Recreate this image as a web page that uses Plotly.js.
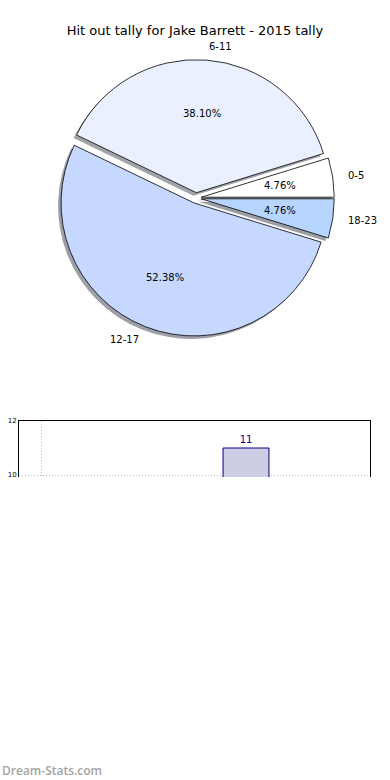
<!DOCTYPE html>
<html>
<head>
<meta charset="utf-8">
<script src="https://cdn.plot.ly/plotly-3.0.1.min.js"></script>
<style>html,body{margin:0;padding:0;background:#fff;}#chart{width:390px;height:780px;}</style>
</head>
<body>
<div id="chart"></div>
<script>
// ---- data ----
const sliceLabels = ['0-5', '6-11', '12-17', '18-23'];
const sliceValues = [1, 8, 11, 1];
const barX = [5];
const barValues = [11];
const yTickVals = [10, 12];
const xGridVals = [0, 8];
const chartTitle = 'Hit out tally for Jake Barrett - 2015 tally';

// ---- style / geometry ----
const W = 390, H = 780;
const sliceColors = ['#ffffff', '#eaf0ff', '#c6d8ff', '#b7d6ff'];
const shadowColors = ['rgba(77,77,77,0.5)', 'rgba(70,72,77,0.5)', 'rgba(59,65,77,0.5)', 'rgba(55,64,77,0.5)'];
const CX = 196, CY = 198, R = 133, PULL = 0.04;
const half = R * (1 + PULL);
const pxX = x => x / W, pxY = y => 1 - y / H;
const dom = (dx, dy) => ({x: [pxX(CX - half + dx), pxX(CX + half + dx)], y: [pxY(CY + half + dy), pxY(CY - half + dy)]});
const pulls = sliceValues.map(() => PULL);
const total = sliceValues.reduce((a, b) => a + b, 0);
// Plotly's counterclockwise pies place the first slice clockwise of the rotation point;
// shift so the first slice starts at 3 o'clock like matplotlib.
const rot = 90 - sliceValues[0] / total * 360;

const shadow = {
  type: 'pie', values: sliceValues, labels: sliceLabels, sort: false,
  direction: 'counterclockwise', rotation: rot, pull: pulls,
  domain: dom(-3, 3), textinfo: 'none', hoverinfo: 'skip', showlegend: false,
  marker: {colors: shadowColors, line: {width: 0}}
};
const pie = {
  type: 'pie', values: sliceValues, labels: sliceLabels, sort: false,
  direction: 'counterclockwise', rotation: rot, pull: pulls,
  domain: dom(0, 0), textinfo: 'none', showlegend: false,
  marker: {colors: sliceColors, line: {color: '#000', width: 0.8}}
};
const bar = {
  type: 'bar', x: barX, y: barValues, width: 1.12,
  xaxis: 'x', yaxis: 'y',
  marker: {color: '#ccccE5', line: {color: '#000080', width: 1}},
  text: barValues.map(String), textposition: 'outside', cliponaxis: false,
  textfont: {family: 'DejaVu Sans', size: 10, color: '#000080'},
  hoverinfo: 'skip', showlegend: false
};

// ---- pie text annotations (computed from values) ----
const annotations = [];
let cum = 0;
sliceValues.forEach((v, i) => {
  const mid = (cum + v / 2) / total * 2 * Math.PI;
  cum += v;
  const c = Math.cos(mid), s = Math.sin(mid);
  const ox = CX + PULL * R * c, oy = CY - PULL * R * s;
  annotations.push({
    x: pxX(ox + 0.6 * R * c), y: pxY(oy - 0.6 * R * s), xref: 'paper', yref: 'paper',
    text: (v / total * 100).toFixed(2) + '%', showarrow: false,
    xanchor: 'center', yanchor: 'middle',
    font: {family: 'DejaVu Sans', size: 10, color: '#000'}
  });
  annotations.push({
    x: pxX(ox + 1.1 * R * c), y: pxY(oy - 1.1 * R * s), xref: 'paper', yref: 'paper',
    text: sliceLabels[i], showarrow: false,
    xanchor: c > 0 ? 'left' : 'right', yanchor: 'middle',
    font: {family: 'DejaVu Sans', size: 10, color: '#000'}
  });
});
annotations.push({
  x: 0, y: pxY(770), xref: 'paper', yref: 'paper', text: 'Dream-Stats.com',
  showarrow: false, xanchor: 'left', yanchor: 'middle',
  font: {family: 'Open Sans', size: 12, color: '#a3a3a3', weight: 600}
});

const pxPerUnitX = 41;
const layout = {
  width: W, height: H, margin: {l: 0, r: 0, t: 0, b: 0},
  paper_bgcolor: '#fff', plot_bgcolor: '#fff',
  title: {text: chartTitle, x: 0.5, xref: 'paper', xanchor: 'center', y: pxY(30), yref: 'container', yanchor: 'middle',
          font: {family: 'DejaVu Sans', size: 13, color: '#000'}},
  xaxis: {domain: [pxX(19), pxX(370)], anchor: 'y', side: 'top',
          range: [-22 / pxPerUnitX, 329 / pxPerUnitX],
          tickvals: xGridVals, showticklabels: false, ticks: '',
          showgrid: true, gridcolor: '#bdbdbd', griddash: '1px,2px', gridwidth: 1,
          showline: true, linecolor: '#000', linewidth: 1, mirror: false, zeroline: false, fixedrange: true},
  yaxis: {domain: [pxY(477), pxY(421)], anchor: 'x',
          range: [12 - 56 / 27, 12],
          tickvals: yTickVals, ticks: '', ticklen: 0,
          tickfont: {family: 'DejaVu Sans', size: 7, color: '#000'},
          showgrid: true, gridcolor: '#bdbdbd', griddash: '1px,2px', gridwidth: 1,
          showline: true, linecolor: '#000', linewidth: 1, mirror: true, zeroline: false, fixedrange: true},
  shapes: [{type: 'rect', xref: 'paper', yref: 'paper', x0: 0, x1: 1, y0: pxY(750), y1: pxY(477.5),
            fillcolor: '#fff', line: {width: 0}, layer: 'above'}],
  annotations: annotations
};

Plotly.newPlot('chart', [shadow, pie, bar], layout, {staticPlot: true, displayModeBar: false});
</script>
</body>
</html>
